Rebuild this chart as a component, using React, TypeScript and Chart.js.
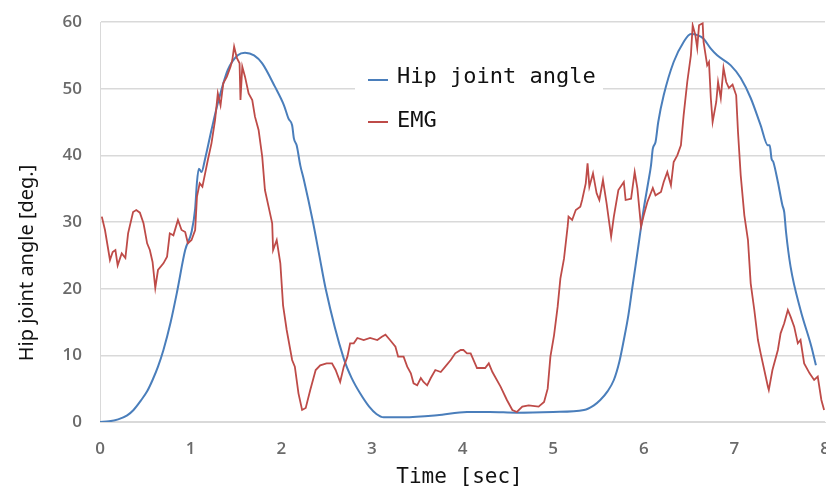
import React, { useEffect, useRef } from 'react';
import { Chart, registerables } from 'chart.js';

Chart.register(...registerables);

// ---- Data ----
const seriesNames = ['Hip joint angle', 'EMG'];
const xTitle = 'Time [sec]';
const yTitle = 'Hip joint angle [deg.]';
const xTickValues = [0, 1, 2, 3, 4, 5, 6, 7, 8];
const yTickValues = [0, 10, 20, 30, 40, 50, 60];

const hipTime = [
  0.0, 0.1, 0.2, 0.3, 0.37, 0.45, 0.52, 0.58, 0.64, 0.7, 0.78, 0.85, 0.94, 1.01, 1.05, 1.07, 1.09, 1.12,
  1.16, 1.23, 1.3, 1.41, 1.52, 1.6, 1.7, 1.79, 1.93, 2.03, 2.08, 2.12, 2.14, 2.17, 2.21, 2.25,
  2.35, 2.42, 2.49, 2.69, 2.78, 2.87, 2.97, 3.05, 3.13, 3.35, 3.72, 4.05, 4.3, 4.6, 5.0, 5.34, 5.45,
  5.52, 5.6, 5.67, 5.73, 5.78, 5.83, 5.87, 5.91, 5.95, 6.0, 6.05, 6.08, 6.1, 6.13, 6.16, 6.22, 6.33,
  6.44, 6.52, 6.6, 6.66, 6.74, 6.81, 6.96, 7.07, 7.18, 7.29, 7.37, 7.39, 7.41, 7.43, 7.48, 7.53, 7.55,
  7.57, 7.62, 7.73, 7.85, 7.9,
];
const hipAngle = [
  0.0, 0.1, 0.4, 1.0, 1.8, 3.2, 4.6, 6.3, 8.3, 10.8, 15.0, 19.5, 25.8, 28.5, 32.0, 36.0, 38.0, 37.5,
  39.5, 43.8, 47.8, 52.8, 55.0, 55.4, 55.0, 53.8, 50.3, 47.5, 45.5, 44.5, 42.5, 41.5, 38.5, 36.3,
  30.0, 25.0, 20.0, 9.5, 6.5, 4.3, 2.3, 1.2, 0.7, 0.7, 1.0, 1.5, 1.5, 1.4, 1.5, 1.8, 2.5,
  3.3, 4.6, 6.3, 9.0, 12.3, 16.0, 19.8, 23.5, 27.3, 32.0, 36.0, 38.5, 41.0, 42.0, 45.0, 49.0, 54.0,
  57.0, 58.2, 58.0, 57.5, 56.0, 55.0, 53.5, 51.6, 48.6, 44.5, 41.5, 41.5, 39.5, 39.0, 36.0, 32.5, 31.5,
  28.5, 23.3, 16.8, 11.3, 8.5,
];

const emgTime = [
  0.02, 0.055, 0.11, 0.14, 0.17, 0.195, 0.24, 0.28, 0.31, 0.365, 0.4, 0.44, 0.48, 0.52, 0.55, 0.58, 0.61,
  0.64, 0.7, 0.74, 0.77, 0.81, 0.86, 0.9, 0.94, 0.97, 1.01, 1.05, 1.07, 1.1, 1.13, 1.16, 1.19, 1.23, 1.27,
  1.3, 1.33, 1.36, 1.4, 1.44, 1.46, 1.48, 1.51, 1.54, 1.55, 1.57, 1.6, 1.64, 1.68, 1.71, 1.75, 1.79, 1.82,
  1.86, 1.9, 1.91, 1.95, 1.99, 2.02, 2.06, 2.12, 2.15, 2.19, 2.23, 2.27, 2.32, 2.38, 2.43, 2.5, 2.56, 2.6,
  2.65, 2.69, 2.73, 2.76, 2.8, 2.84, 2.91, 2.98, 3.06, 3.11, 3.15, 3.2, 3.26, 3.29, 3.35, 3.39, 3.43, 3.46,
  3.5, 3.54, 3.57, 3.61, 3.65, 3.7, 3.76, 3.81, 3.87, 3.92, 3.98, 4.01, 4.05, 4.09, 4.16, 4.25, 4.29, 4.33,
  4.42, 4.49, 4.55, 4.6, 4.66, 4.73, 4.84, 4.9, 4.94, 4.97, 5.01, 5.05, 5.08, 5.12, 5.16, 5.17, 5.21, 5.25,
  5.3, 5.32, 5.36, 5.38, 5.4, 5.44, 5.48, 5.51, 5.55, 5.59, 5.64, 5.67, 5.72, 5.78, 5.8, 5.86, 5.9, 5.93,
  5.97, 6.0, 6.04, 6.1, 6.13, 6.19, 6.22, 6.26, 6.3, 6.33, 6.37, 6.41, 6.44, 6.48, 6.52, 6.54, 6.57, 6.59,
  6.61, 6.65, 6.66, 6.7, 6.72, 6.74, 6.76, 6.8, 6.82, 6.85, 6.88, 6.91, 6.94, 6.98, 7.02, 7.04, 7.07, 7.11,
  7.15, 7.18, 7.22, 7.26, 7.29, 7.33, 7.37, 7.38, 7.42, 7.48, 7.51, 7.55, 7.59, 7.62, 7.66, 7.7, 7.73, 7.77,
  7.83, 7.88, 7.92, 7.96, 7.99,
];
const emgValue = [
  30.8, 28.8, 24.3, 25.5, 25.8, 23.5, 25.3, 24.6, 28.3, 31.5, 31.8, 31.4, 29.8, 26.8, 25.8, 24.0, 20.1,
  22.8, 23.8, 24.8, 28.3, 28.0, 30.3, 28.8, 28.5, 26.8, 27.3, 28.8, 33.8, 35.8, 35.3, 37.3, 39.3, 41.8, 45.3,
  49.3, 47.5, 50.8, 51.8, 53.3, 54.3, 56.3, 54.6, 53.8, 48.3, 53.3, 51.8, 49.3, 48.3, 45.8, 43.8, 39.8, 34.8,
  32.3, 29.8, 25.8, 27.3, 23.8, 17.5, 13.8, 9.3, 8.3, 4.3, 1.8, 2.1, 4.8, 7.8, 8.5, 8.8, 8.8, 7.8,
  6.0, 8.3, 9.8, 11.8, 11.8, 12.6, 12.3, 12.6, 12.3, 12.8, 13.1, 12.3, 11.3, 9.8, 9.8, 8.3, 7.3, 5.8,
  5.5, 6.6, 6.0, 5.5, 6.6, 7.8, 7.5, 8.3, 9.3, 10.3, 10.8, 10.8, 10.3, 10.3, 8.1, 8.1, 8.8, 7.5,
  5.3, 3.3, 1.8, 1.5, 2.3, 2.5, 2.3, 3.0, 5.0, 9.8, 13.0, 17.3, 21.5, 24.5, 29.3, 30.8, 30.3, 31.8,
  32.3, 33.3, 35.8, 38.8, 35.3, 37.3, 34.3, 33.3, 36.3, 32.8, 27.8, 30.8, 34.8, 36.0, 33.3, 33.5, 37.5, 35.0,
  29.3, 31.0, 33.0, 35.1, 34.0, 34.5, 36.0, 37.5, 35.5, 39.0, 40.0, 41.5, 46.0, 51.0, 55.0, 59.5, 58.0, 56.1,
  59.5, 59.8, 57.0, 53.5, 54.0, 48.6, 45.0, 48.0, 51.0, 48.6, 53.1, 51.0, 50.1, 50.6, 49.0, 43.5, 37.0, 31.0,
  27.3, 20.8, 16.8, 12.3, 10.3, 7.8, 5.3, 4.8, 7.8, 10.8, 13.3, 14.8, 16.8, 15.8, 14.3, 11.8, 12.3, 8.8,
  7.3, 6.3, 6.8, 3.3, 1.8,
];

// ---- Styles ----
const HIP_COLOR = '#4a7ebb';
const EMG_COLOR = '#be4b48';
const GRID_COLOR = '#d9d9d9';
const TICK_COLOR = '#6a6a6a';

const overlayPlugin = {
  id: 'overlay',
  afterDatasetsDraw(chart: any) {
    const ctx = chart.ctx as CanvasRenderingContext2D;
    ctx.save();
    // legend box
    ctx.fillStyle = '#ffffff';
    ctx.fillRect(355, 57, 248, 80);
    ctx.lineWidth = 2;
    ctx.strokeStyle = HIP_COLOR;
    ctx.beginPath();
    ctx.moveTo(368, 80);
    ctx.lineTo(388, 80);
    ctx.stroke();
    ctx.strokeStyle = EMG_COLOR;
    ctx.beginPath();
    ctx.moveTo(368, 122);
    ctx.lineTo(388, 122);
    ctx.stroke();
    ctx.fillStyle = '#111111';
    ctx.font = '22px "DejaVu Sans Mono"';
    ctx.textAlign = 'left';
    ctx.textBaseline = 'alphabetic';
    ctx.fillText(seriesNames[0], 397, 83);
    ctx.fillText(seriesNames[1], 397, 127);

    // axis titles
    const area = chart.chartArea;
    ctx.fillStyle = '#111111';
    ctx.font = '21px "DejaVu Sans Mono"';
    ctx.textAlign = 'center';
    ctx.textBaseline = 'alphabetic';
    ctx.fillText(xTitle, (area.left + area.right) / 2 - 3, 483);

    ctx.translate(27, 263);
    ctx.rotate(-Math.PI / 2);
    ctx.font = '20px "Noto Sans"';
    ctx.textAlign = 'center';
    ctx.textBaseline = 'middle';
    ctx.fillText(yTitle, 0, 0);
    ctx.restore();
  },
};

export default function App() {
  const canvasRef = useRef<HTMLCanvasElement | null>(null);

  useEffect(() => {
    const canvas = canvasRef.current;
    if (!canvas) return;
    const chart = new Chart(canvas, {
      type: 'line',
      data: {
        datasets: [
          {
            label: seriesNames[0],
            data: hipTime.map((t, i) => ({ x: t, y: hipAngle[i] })),
            borderColor: HIP_COLOR,
            backgroundColor: HIP_COLOR,
            borderWidth: 2,
            pointRadius: 0,
            cubicInterpolationMode: 'monotone',
            order: 1,
          },
          {
            label: seriesNames[1],
            data: emgTime.map((t, i) => ({ x: t, y: emgValue[i] })),
            borderColor: EMG_COLOR,
            backgroundColor: EMG_COLOR,
            borderWidth: 1.8,
            pointRadius: 0,
            tension: 0,
            order: 0,
          },
        ],
      },
      options: {
        responsive: false,
        animation: false,
        layout: { padding: { left: 0, top: 22, right: 1, bottom: 0 } },
        plugins: {
          legend: { display: false },
          tooltip: { enabled: false },
        },
        scales: {
          x: {
            type: 'linear',
            min: xTickValues[0],
            max: xTickValues[xTickValues.length - 1],
            afterBuildTicks: (s: any) => {
              s.ticks = xTickValues.map((v) => ({ value: v }));
            },
            ticks: {
              color: TICK_COLOR,
              font: { family: '"Open Sans"', size: 17, weight: '600' },
              padding: 17,
              maxRotation: 0,
              autoSkip: false,
            },
            grid: { display: false, drawTicks: false },
            border: { display: true, color: GRID_COLOR },
            afterFit: (s: any) => {
              s.height = 69;
              s.paddingLeft = 0;
              s.paddingRight = 0;
            },
          },
          y: {
            type: 'linear',
            min: yTickValues[0],
            max: yTickValues[yTickValues.length - 1],
            afterBuildTicks: (s: any) => {
              s.ticks = yTickValues.map((v) => ({ value: v }));
            },
            ticks: {
              color: TICK_COLOR,
              font: { family: '"Open Sans"', size: 17, weight: '600' },
              padding: 18,
              autoSkip: false,
            },
            grid: { color: GRID_COLOR, drawTicks: false, lineWidth: 1.5 },
            border: { display: true, color: GRID_COLOR },
            afterFit: (s: any) => {
              s.width = 100;
              s.paddingTop = 0;
              s.paddingBottom = 0;
            },
          },
        },
      },
      plugins: [overlayPlugin],
    } as any);
    return () => chart.destroy();
  }, []);

  return (
    <div style={{ position: 'fixed', left: 0, top: 0, width: 826, height: 491, background: '#ffffff' }}>
      <canvas ref={canvasRef} width={826} height={491} />
    </div>
  );
}
